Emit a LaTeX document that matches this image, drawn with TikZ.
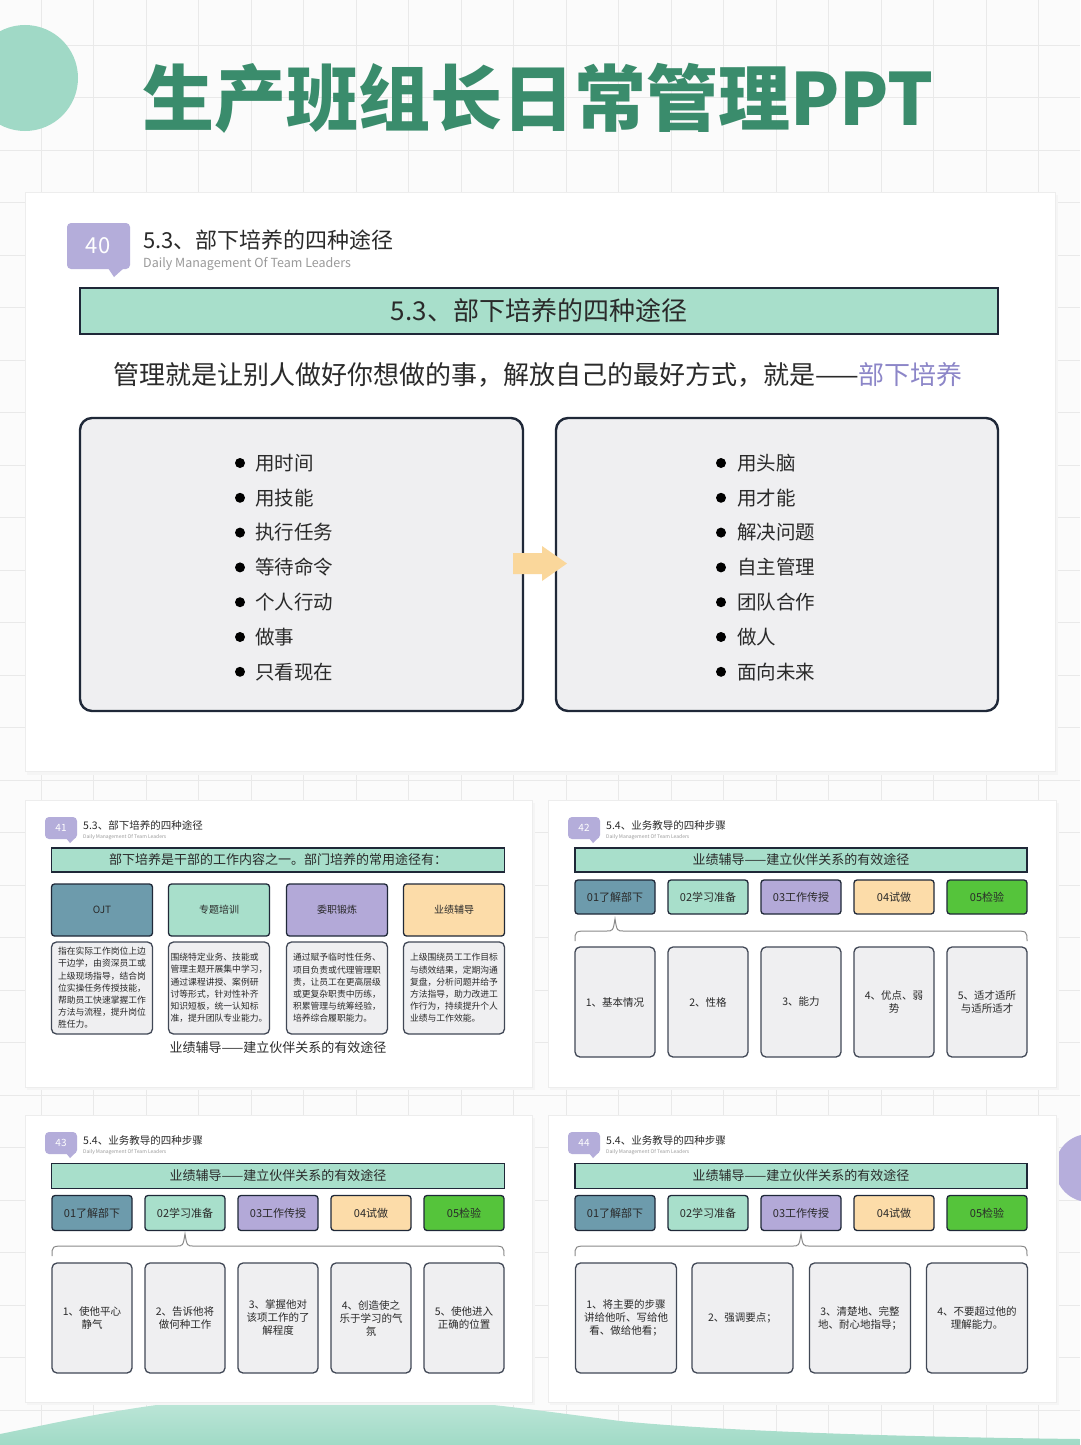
\documentclass[tikz,border=0pt]{standalone}
\usepackage{fontspec}
\setmainfont{Noto Sans CJK SC}
\usetikzlibrary{calc}
\definecolor{bgc}{HTML}{FBFBFB}
\definecolor{gridc}{HTML}{E9E9E9}
\definecolor{titleg}{HTML}{3A8C6C}
\definecolor{circt}{HTML}{A0D9C6}
\definecolor{circp}{HTML}{B6AEDC}
\definecolor{badgec}{HTML}{B4ADDA}
\definecolor{tealc}{HTML}{A8DFCB}
\definecolor{steelc}{HTML}{6D9BAC}
\definecolor{purpc}{HTML}{B3A9D8}
\definecolor{peachc}{HTML}{FCDCA9}
\definecolor{greenc}{HTML}{55C43B}
\definecolor{navyc}{HTML}{1F2838}
\definecolor{boxg}{HTML}{EFEFF1}
\definecolor{txtc}{HTML}{2A2A2A}
\definecolor{subc}{HTML}{9A9A9A}
\definecolor{accent}{HTML}{8C86C8}
\definecolor{arrowc}{HTML}{FAD79B}
\definecolor{bracec}{HTML}{8A8A8A}
\definecolor{wavetop}{HTML}{C2E8DB}
\definecolor{wavebot}{HTML}{A0DAC6}
\newcommand\setfs[2]{\fontsize{#1}{#2}\selectfont}
\newcommand\stepbrace[4]{\draw[brc] (#1,{#4+10}) .. controls (#1,#4) .. ({#1+14},#4) -- ({#3-9},#4) .. controls ({#3-2},#4) .. (#3,{#4-12}) .. controls ({#3+2},#4) .. ({#3+9},#4) -- ({#2-14},#4) .. controls (#2,#4) .. (#2,{#4+10});}
\begin{document}
\begin{tikzpicture}[x=1pt,y=-1pt,
  panel/.style={fill=white, draw=black!7, line width=0.8},
  shadowp/.style={fill=black!4},
  badge/.style={fill=badgec, rounded corners=4},
  bnum/.style={text=white, inner sep=0},
  ttl/.style={anchor=west, text=txtc, inner sep=0},
  subt/.style={anchor=west, text=subc, inner sep=0},
  banner/.style={draw=navyc, fill=tealc, line width=1.6, text=txtc, inner sep=0},
  stepbox/.style={draw=navyc, rounded corners=3, line width=1.3, text=txtc, inner sep=0},
  cbox/.style={draw=navyc!85, fill=boxg, rounded corners=5, line width=1.3, text=txtc, align=center, inner sep=0},
  bigbox/.style={draw=navyc, fill=boxg, rounded corners=12, line width=2.4, inner sep=0},
  item/.style={anchor=west, text=txtc, inner sep=0, font=\setfs{19.5}{24}},
  brc/.style={draw=bracec, line width=1}]
% background
\fill[bgc] (0,0) rectangle (1080,1445);
\useasboundingbox (0,0) rectangle (1080,1445);
\foreach \i in {0,...,20} {\draw[gridc, line width=0.8] ({41+52.5*(\i-1)},0) -- ({41+52.5*(\i-1)},1445);}
\foreach \j in {0,...,28} {\draw[gridc, line width=0.8] (0,{45+52.5*(\j-1)}) -- (1080,{45+52.5*(\j-1)});}
% decorations
\fill[circt] (25,78) circle[radius=53];
\fill[circp] (1089,1168) circle[radius=34];
\shade[top color=wavetop, bottom color=wavebot] (0,1434) .. controls (80,1418) and (170,1396) .. (300,1394) .. controls (420,1393) and (520,1408) .. (620,1421) .. controls (720,1431) and (900,1437) .. (1080,1439) -- (1080,1445) -- (0,1445) -- cycle;
% title
\node[text=titleg, font=\setfs{72}{80}\bfseries, inner sep=0] (title) at (538,98) {生产班组长日常管理PPT};

% ===== slide 40 =====
\fill[shadowp] (27,195) rectangle (1058,775);
\draw[panel] (25,192) rectangle (1055,771);
\fill[badge] (67,223) rectangle (130,269);
\fill[badgec] (108,268) -- (124,268) -- (114,277) -- cycle;
\node[bnum, font=\setfs{22}{26}] (b40) at (98,246) {40};
\node[ttl, font=\setfs{22}{26}] (t40) at (143,240) {5.3、部下培养的四种途径};
\node[subt, font=\setfs{12.5}{14}] (s40) at (143,264) {Daily Management Of Team Leaders};
\node[banner, minimum width=918, minimum height=46, font=\setfs{26}{30}] (ban40) at (539,311) {5.3、部下培养的四种途径};
\node[text=txtc, inner sep=0, font=\setfs{26}{30}] (sent) at (538,375) {管理就是让别人做好你想做的事，解放自己的最好方式，就是——\textcolor{accent}{部下培养}};
\node[bigbox, minimum width=443, minimum height=293] (lbox) at (301.5,564.5) {};
\node[bigbox, minimum width=442, minimum height=293] (rbox) at (777,564.5) {};
\foreach \t [count=\i] in {用时间,用技能,执行任务,等待命令,个人行动,做事,只看现在} {
  \fill[black] (240,{463+34.8*(\i-1)}) circle[radius=5];
  \node[item] (l\i) at (255,{463+34.8*(\i-1)}) {\t};
}
\foreach \t [count=\i] in {用头脑,用才能,解决问题,自主管理,团队合作,做人,面向未来} {
  \fill[black] (721,{463+34.8*(\i-1)}) circle[radius=5];
  \node[item] (r\i) at (737,{463+34.8*(\i-1)}) {\t};
}
\fill[arrowc] (513,553) -- (542,553) -- (542,546) -- (567,563.5) -- (542,581) -- (542,574) -- (513,574) -- cycle;

% ===== slide 41 =====
\fill[shadowp] (27,803) rectangle (535,1090);
\draw[panel] (25,800) rectangle (532,1087);
\fill[badge] (45,817) rectangle (77,839);
\fill[badgec] (66,838) -- (75,838) -- (70,843) -- cycle;
\node[bnum, font=\setfs{10}{12}] (b41) at (61,828) {41};
\node[ttl, font=\setfs{10.5}{12}] (t41) at (83,825) {5.3、部下培养的四种途径};
\node[subt, font=\setfs{5}{6}] (s41) at (83,837) {Daily Management Of Team Leaders};
\node[banner, minimum width=453, minimum height=24, font=\setfs{13}{15}] (ban41) at (278,860) {部下培养是干部的工作内容之一。部门培养的常用途径有：};
\foreach \x/\c/\t [count=\i] in {102/steelc/OJT, 219/tealc/专题培训, 337/purpc/委职锻炼, 454/peachc/业绩辅导} {
  \node[stepbox, fill=\c, minimum width=101, minimum height=52, font=\setfs{10}{12}] (h\i) at (\x,910) {\t};
}
\node[cbox, minimum width=101, minimum height=92, align=left, font=\setfs{8.8}{12.2}] (d1) at (102,988) {指在实际工作岗位上边\\干边学，由资深员工或\\上级现场指导，结合岗\\位实操任务传授技能，\\帮助员工快速掌握工作\\方法与流程，提升岗位\\胜任力。};
\node[cbox, minimum width=101, minimum height=92, align=left, font=\setfs{8.8}{12.2}] (d2) at (219,988) {围绕特定业务、技能或\\管理主题开展集中学习，\\通过课程讲授、案例研\\讨等形式，针对性补齐\\知识短板，统一认知标\\准，提升团队专业能力。};
\node[cbox, minimum width=101, minimum height=92, align=left, font=\setfs{8.8}{12.2}] (d3) at (337,988) {通过赋予临时性任务、\\项目负责或代理管理职\\责，让员工在更高层级\\或更复杂职责中历练，\\积累管理与统筹经验，\\培养综合履职能力。};
\node[cbox, minimum width=101, minimum height=92, align=left, font=\setfs{8.8}{12.2}] (d4) at (454,988) {上级围绕员工工作目标\\与绩效结果，定期沟通\\复盘，分析问题并给予\\方法指导，助力改进工\\作行为，持续提升个人\\业绩与工作效能。};
\node[text=txtc, inner sep=0, font=\setfs{13}{15}] (cap41) at (278,1048) {业绩辅导——建立伙伴关系的有效途径};

% ===== slide 42 =====
\fill[shadowp] (550,803) rectangle (1059,1090);
\draw[panel] (548,800) rectangle (1056,1087);
\fill[badge] (568,817) rectangle (600,839);
\fill[badgec] (589,838) -- (598,838) -- (593,843) -- cycle;
\node[bnum, font=\setfs{10}{12}] (b42) at (584,828) {42};
\node[ttl, font=\setfs{10.5}{12}] (t42) at (606,825) {5.4、业务教导的四种步骤};
\node[subt, font=\setfs{5}{6}] (s42) at (606,837) {Daily Management Of Team Leaders};
\node[banner, minimum width=452, minimum height=24, font=\setfs{13}{15}] (ban42) at (801,860) {业绩辅导——建立伙伴关系的有效途径};
\foreach \x/\c/\t [count=\i] in {615/steelc/01了解部下, 708/tealc/02学习准备, 801/purpc/03工作传授, 894/peachc/04试做, 987/greenc/05检验} {
  \node[stepbox, fill=\c, minimum width=80, minimum height=34, font=\setfs{11}{13}] (p\i) at (\x,897) {\t};
}
\stepbrace{575}{1027}{615}{931}
\foreach \x/\t [count=\i] in {615/{1、基本情况}, 708/{2、性格}, 801/{3、能力}, 894/{4、优点、弱\\势}, 987/{5、适才适所\\与适所适才}} {
  \node[cbox, minimum width=80, minimum height=110, font=\setfs{10.5}{13}] (q\i) at (\x,1002) {\t};
}

% ===== slide 43 =====
\fill[shadowp] (27,1118) rectangle (535,1405);
\draw[panel] (25,1115) rectangle (532,1402);
\fill[badge] (45,1132) rectangle (77,1154);
\fill[badgec] (66,1153) -- (75,1153) -- (70,1158) -- cycle;
\node[bnum, font=\setfs{10}{12}] (b43) at (61,1143) {43};
\node[ttl, font=\setfs{10.5}{12}] (t43) at (83,1140) {5.4、业务教导的四种步骤};
\node[subt, font=\setfs{5}{6}] (s43) at (83,1152) {Daily Management Of Team Leaders};
\node[banner, minimum width=453, minimum height=25, font=\setfs{13}{15}] (ban43) at (278,1176) {业绩辅导——建立伙伴关系的有效途径};
\foreach \x/\c/\t [count=\i] in {92/steelc/01了解部下, 185/tealc/02学习准备, 278/purpc/03工作传授, 371/peachc/04试做, 464/greenc/05检验} {
  \node[stepbox, fill=\c, minimum width=80, minimum height=35, font=\setfs{11}{13}] (u\i) at (\x,1213) {\t};
}
\stepbrace{52}{504}{185}{1246}
\foreach \x/\t [count=\i] in {92/{1、使他平心\\静气}, 185/{2、告诉他将\\做何种工作}, 278/{3、掌握他对\\该项工作的了\\解程度}, 371/{4、创造使之\\乐于学习的气\\氛}, 464/{5、使他进入\\正确的位置}} {
  \node[cbox, minimum width=80, minimum height=110, font=\setfs{10.5}{13}] (v\i) at (\x,1318) {\t};
}

% ===== slide 44 =====
\fill[shadowp] (550,1118) rectangle (1059,1405);
\draw[panel] (548,1115) rectangle (1056,1402);
\fill[badge] (568,1132) rectangle (600,1154);
\fill[badgec] (589,1153) -- (598,1153) -- (593,1158) -- cycle;
\node[bnum, font=\setfs{10}{12}] (b44) at (584,1143) {44};
\node[ttl, font=\setfs{10.5}{12}] (t44) at (606,1140) {5.4、业务教导的四种步骤};
\node[subt, font=\setfs{5}{6}] (s44) at (606,1152) {Daily Management Of Team Leaders};
\node[banner, minimum width=452, minimum height=25, font=\setfs{13}{15}] (ban44) at (801,1176) {业绩辅导——建立伙伴关系的有效途径};
\foreach \x/\c/\t [count=\i] in {615/steelc/01了解部下, 708/tealc/02学习准备, 801/purpc/03工作传授, 894/peachc/04试做, 987/greenc/05检验} {
  \node[stepbox, fill=\c, minimum width=80, minimum height=35, font=\setfs{11}{13}] (w\i) at (\x,1213) {\t};
}
\stepbrace{575}{1027}{801}{1246}
\foreach \x/\t [count=\i] in {626/{1、将主要的步骤\\讲给他听、写给他\\看、做给他看；}, 742.5/{2、强调要点；}, 860/{3、清楚地、完整\\地、耐心地指导；}, 977/{4、不要超过他的\\理解能力。}} {
  \node[cbox, minimum width=101, minimum height=110, font=\setfs{10.5}{13}] (z\i) at (\x,1318) {\t};
}
\end{tikzpicture}
\end{document}
